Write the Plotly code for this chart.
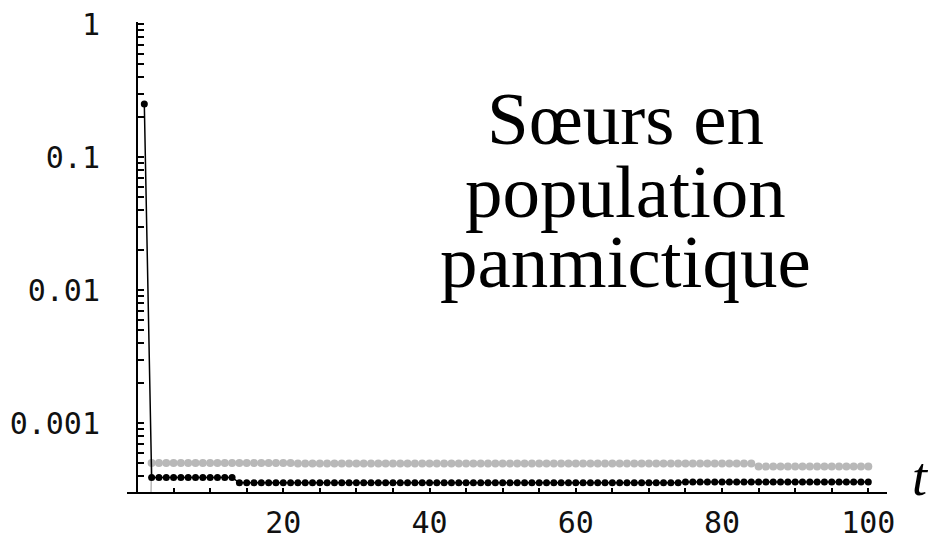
import plotly.graph_objects as go

# Generations
t_values = list(range(1, 101))

# Sisters' probability, black series (t = 1 .. 100)
black_values = [
    0.25, 3.9e-4, 3.9e-4, 3.9e-4, 3.9e-4, 3.9e-4, 3.9e-4, 3.9e-4, 3.9e-4, 3.9e-4,
    3.9e-4, 3.9e-4, 3.9e-4, 3.55e-4, 3.55e-4, 3.55e-4, 3.55e-4, 3.55e-4, 3.55e-4, 3.55e-4,
    3.55e-4, 3.55e-4, 3.55e-4, 3.55e-4, 3.55e-4, 3.55e-4, 3.55e-4, 3.55e-4, 3.55e-4, 3.55e-4,
    3.55e-4, 3.55e-4, 3.55e-4, 3.55e-4, 3.55e-4, 3.55e-4, 3.55e-4, 3.55e-4, 3.55e-4, 3.55e-4,
    3.55e-4, 3.55e-4, 3.55e-4, 3.55e-4, 3.55e-4, 3.55e-4, 3.55e-4, 3.55e-4, 3.55e-4, 3.55e-4,
    3.55e-4, 3.55e-4, 3.55e-4, 3.55e-4, 3.55e-4, 3.55e-4, 3.55e-4, 3.55e-4, 3.55e-4, 3.55e-4,
    3.55e-4, 3.55e-4, 3.55e-4, 3.55e-4, 3.55e-4, 3.55e-4, 3.55e-4, 3.55e-4, 3.55e-4, 3.55e-4,
    3.55e-4, 3.55e-4, 3.55e-4, 3.55e-4, 3.6e-4, 3.6e-4, 3.6e-4, 3.6e-4, 3.6e-4, 3.6e-4,
    3.6e-4, 3.6e-4, 3.6e-4, 3.6e-4, 3.6e-4, 3.6e-4, 3.6e-4, 3.6e-4, 3.6e-4, 3.6e-4,
    3.6e-4, 3.6e-4, 3.6e-4, 3.6e-4, 3.6e-4, 3.6e-4, 3.6e-4, 3.6e-4, 3.6e-4, 3.6e-4,
]

# Grey series (t = 1 .. 100); the first value lies far below the plotted range
gray_values = [
    1e-6, 5.0e-4, 5.0e-4, 5.0e-4, 5.0e-4, 5.0e-4, 5.0e-4, 5.0e-4, 5.0e-4, 5.0e-4,
    5.0e-4, 5.0e-4, 5.0e-4, 5.0e-4, 5.0e-4, 5.0e-4, 5.0e-4, 5.0e-4, 5.0e-4, 5.0e-4,
    5.0e-4, 4.95e-4, 4.95e-4, 4.95e-4, 4.95e-4, 4.95e-4, 4.95e-4, 4.95e-4, 4.95e-4, 4.95e-4,
    4.95e-4, 4.95e-4, 4.95e-4, 4.95e-4, 4.95e-4, 4.95e-4, 4.95e-4, 4.95e-4, 4.95e-4, 4.95e-4,
    4.95e-4, 4.95e-4, 4.95e-4, 4.95e-4, 4.95e-4, 4.95e-4, 4.95e-4, 4.95e-4, 4.95e-4, 4.95e-4,
    4.95e-4, 4.95e-4, 4.95e-4, 4.95e-4, 4.95e-4, 4.95e-4, 4.95e-4, 4.95e-4, 4.95e-4, 4.95e-4,
    4.95e-4, 4.95e-4, 4.95e-4, 4.95e-4, 4.95e-4, 4.95e-4, 4.95e-4, 4.95e-4, 4.95e-4, 4.95e-4,
    4.95e-4, 4.95e-4, 4.95e-4, 4.95e-4, 4.95e-4, 4.95e-4, 4.95e-4, 4.95e-4, 4.95e-4, 4.95e-4,
    4.95e-4, 4.95e-4, 4.95e-4, 4.95e-4, 4.7e-4, 4.7e-4, 4.7e-4, 4.7e-4, 4.7e-4, 4.7e-4,
    4.7e-4, 4.7e-4, 4.7e-4, 4.7e-4, 4.7e-4, 4.7e-4, 4.7e-4, 4.7e-4, 4.7e-4, 4.7e-4,
]

x_tick_vals = [20, 40, 60, 80, 100]
x_tick_text = ["20", "40", "60", "80", "100"]
y_major_vals = [0.001, 0.01, 0.1, 1]
y_major_text = ["0.001", "0.01", "0.1", "1"]
title_lines = ["Sœurs en", "population", "panmictique"]
x_title = "t"

# Layout geometry (pixels)
W, H = 931, 543
L, R, T, B = 127, 44, 22, 51
PW, PH = W - L - R, H - T - B

def px_x(px):
    return (px - L) / PW

def px_y(py):
    return (H - B - py) / PH

# y ticks: every integer multiple within each decade, labels only on powers of ten
y_tick_vals, y_tick_text = [], []
for dec in [1e-4, 1e-3, 1e-2, 1e-1]:
    for k in range(1, 10):
        v = round(k * dec, 8)
        if v < 3.1e-4:
            continue
        y_tick_vals.append(v)
        y_tick_text.append(y_major_text[y_major_vals.index(v)] if v in y_major_vals else "")
y_tick_vals.append(1)
y_tick_text.append("1")

fig = go.Figure()
fig.add_trace(go.Scatter(
    x=t_values, y=gray_values, mode="lines+markers",
    line=dict(color="#b8b8b8", width=1.5),
    marker=dict(color="#b8b8b8", size=8),
    showlegend=False,
))
fig.add_trace(go.Scatter(
    x=t_values, y=black_values, mode="lines+markers",
    line=dict(color="black", width=1.5),
    marker=dict(color="black", size=7),
    showlegend=False,
))

x0 = -10 / 7.3125
x1 = (887 - 137.05) / 7.3125
fig.update_xaxes(
    range=[x0, x1], automargin=False,
    showgrid=False, zeroline=False,
    showline=True, linecolor="black", linewidth=2,
    tickmode="array", tickvals=x_tick_vals, ticktext=x_tick_text,
    ticks="inside", ticklen=4, tickwidth=2, tickcolor="black",
    minor=dict(dtick=5, tick0=0, ticks="inside", ticklen=4, tickwidth=2, tickcolor="black"),
    tickfont=dict(family="DejaVu Sans Mono", size=30, color="#111111"),
    ticklabelstandoff=3,
)
fig.update_yaxes(
    type="log", automargin=False,
    range=[-(492 - 24) / 133, (24 - 22) / 133],
    anchor="free", position=10 / PW,
    showgrid=False, zeroline=False,
    showline=True, linecolor="black", linewidth=2,
    tickmode="array", tickvals=y_tick_vals, ticktext=y_tick_text,
    ticks="inside", ticklen=6, tickwidth=2, tickcolor="black",
    tickfont=dict(family="DejaVu Sans Mono", size=30, color="#111111"),
    ticklabelstandoff=30,
)

# Title text inside the plot, one annotation per line
for line, base in zip(title_lines, [145, 218, 288]):
    fig.add_annotation(
        text=line, x=px_x(625), y=px_y(base + 17), xref="paper", yref="paper",
        xanchor="center", yanchor="bottom", showarrow=False,
        font=dict(family="Liberation Serif", size=75, color="black"),
    )

# Axis label t
fig.add_annotation(
    text=f"<i>{x_title}</i>", x=px_x(920), y=px_y(497 + 12), xref="paper", yref="paper",
    xanchor="center", yanchor="bottom", showarrow=False,
    font=dict(family="Liberation Serif", size=54, color="black"),
)

fig.update_layout(
    width=W, height=H,
    margin=dict(l=L, r=R, t=T, b=B, pad=0, autoexpand=False),
    paper_bgcolor="white", plot_bgcolor="white",
)
fig.write_html("out.html")
